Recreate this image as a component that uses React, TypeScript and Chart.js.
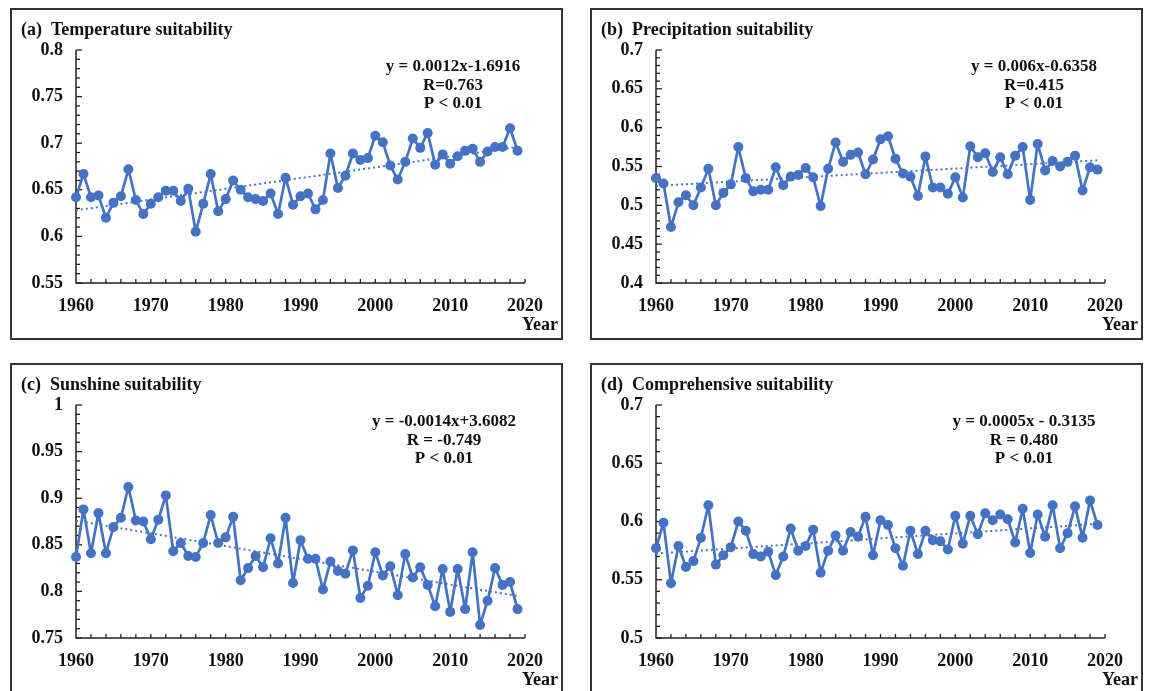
import React, { useEffect, useRef } from "react";
import { Chart, registerables } from "chart.js";

Chart.register(...registerables);

const FONT = '"Liberation Serif", "Times New Roman", serif';
const BLUE = "#4472C4";
const TREND = "#4f76b6";
const INK = "#111111";

const years = [
  1960, 1961, 1962, 1963, 1964, 1965, 1966, 1967, 1968, 1969,
  1970, 1971, 1972, 1973, 1974, 1975, 1976, 1977, 1978, 1979,
  1980, 1981, 1982, 1983, 1984, 1985, 1986, 1987, 1988, 1989,
  1990, 1991, 1992, 1993, 1994, 1995, 1996, 1997, 1998, 1999,
  2000, 2001, 2002, 2003, 2004, 2005, 2006, 2007, 2008, 2009,
  2010, 2011, 2012, 2013, 2014, 2015, 2016, 2017, 2018, 2019,
];

const xTicks = [1960, 1970, 1980, 1990, 2000, 2010, 2020];
const trendYears = [1960, 2019];

const temperature = [
  0.642, 0.667, 0.642, 0.644, 0.620, 0.636, 0.643, 0.672, 0.639, 0.624,
  0.635, 0.642, 0.649, 0.649, 0.638, 0.651, 0.605, 0.635, 0.667, 0.627,
  0.640, 0.660, 0.650, 0.642, 0.640, 0.638, 0.646, 0.624, 0.663, 0.634,
  0.643, 0.646, 0.629, 0.639, 0.689, 0.652, 0.665, 0.689, 0.682, 0.684,
  0.708, 0.701, 0.676, 0.661, 0.680, 0.705, 0.695, 0.711, 0.677, 0.688,
  0.678, 0.686, 0.692, 0.694, 0.680, 0.691, 0.696, 0.696, 0.716, 0.692,
];
const temperatureTrend = [0.628, 0.696];
const temperatureTicks = [0.55, 0.6, 0.65, 0.7, 0.75, 0.8];

const precipitation = [
  0.535, 0.528, 0.472, 0.504, 0.513, 0.500, 0.523, 0.547, 0.500, 0.516,
  0.527, 0.575, 0.535, 0.518, 0.520, 0.520, 0.549, 0.526, 0.537, 0.539,
  0.548, 0.536, 0.499, 0.547, 0.581, 0.556, 0.565, 0.568, 0.540, 0.559,
  0.585, 0.589, 0.560, 0.541, 0.537, 0.512, 0.563, 0.523, 0.523, 0.515,
  0.536, 0.510, 0.576, 0.562, 0.567, 0.543, 0.562, 0.540, 0.564, 0.575,
  0.507, 0.579, 0.545, 0.557, 0.550, 0.556, 0.564, 0.519, 0.549, 0.546,
];
const precipitationTrend = [0.525, 0.558];
const precipitationTicks = [0.4, 0.45, 0.5, 0.55, 0.6, 0.65, 0.7];

const sunshine = [
  0.837, 0.888, 0.841, 0.884, 0.841, 0.869, 0.879, 0.912, 0.876, 0.875,
  0.856, 0.877, 0.903, 0.843, 0.852, 0.838, 0.837, 0.852, 0.882, 0.852,
  0.858, 0.880, 0.812, 0.825, 0.838, 0.826, 0.857, 0.830, 0.879, 0.809,
  0.855, 0.835, 0.835, 0.802, 0.832, 0.822, 0.819, 0.844, 0.793, 0.806,
  0.842, 0.817, 0.827, 0.796, 0.840, 0.815, 0.826, 0.807, 0.784, 0.824,
  0.778, 0.824, 0.781, 0.842, 0.764, 0.790, 0.825, 0.807, 0.810, 0.781,
];
const sunshineTrend = [0.876, 0.795];
const sunshineTicks = [0.75, 0.8, 0.85, 0.9, 0.95, 1];

const comprehensive = [
  0.577, 0.599, 0.547, 0.579, 0.561, 0.566, 0.586, 0.614, 0.563, 0.571,
  0.578, 0.600, 0.592, 0.572, 0.570, 0.574, 0.554, 0.570, 0.594, 0.575,
  0.579, 0.593, 0.556, 0.575, 0.588, 0.575, 0.591, 0.587, 0.604, 0.571,
  0.601, 0.597, 0.577, 0.562, 0.592, 0.572, 0.592, 0.584, 0.583, 0.576,
  0.605, 0.581, 0.605, 0.589, 0.607, 0.601, 0.606, 0.602, 0.582, 0.611,
  0.573, 0.606, 0.587, 0.614, 0.577, 0.590, 0.613, 0.586, 0.618, 0.597,
];
const comprehensiveTrend = [0.5725, 0.598];
const comprehensiveTicks = [0.5, 0.55, 0.6, 0.65, 0.7];

type Spec = {
  title: string;
  values: number[];
  trend: number[];
  yTicks: number[];
  equation: string[];
  eqX: number;
  left: number;
  top: number;
};

const panels: Spec[] = [
  {
    title: "(a)  Temperature suitability",
    values: temperature,
    trend: temperatureTrend,
    yTicks: temperatureTicks,
    equation: ["y = 0.0012x-1.6916", "R=0.763", "P < 0.01"],
    eqX: 441,
    left: 10,
    top: 8,
  },
  {
    title: "(b)  Precipitation suitability",
    values: precipitation,
    trend: precipitationTrend,
    yTicks: precipitationTicks,
    equation: ["y = 0.006x-0.6358", "R=0.415", "P < 0.01"],
    eqX: 442,
    left: 590,
    top: 8,
  },
  {
    title: "(c)  Sunshine suitability",
    values: sunshine,
    trend: sunshineTrend,
    yTicks: sunshineTicks,
    equation: ["y = -0.0014x+3.6082", "R = -0.749", "P < 0.01"],
    eqX: 432,
    left: 10,
    top: 363,
  },
  {
    title: "(d)  Comprehensive suitability",
    values: comprehensive,
    trend: comprehensiveTrend,
    yTicks: comprehensiveTicks,
    equation: ["y = 0.0005x - 0.3135", "R = 0.480", "P < 0.01"],
    eqX: 432,
    left: 590,
    top: 363,
  },
];

const CANVAS_W = 549;
const CANVAS_H = 328;

function Panel({ spec }: { spec: Spec }) {
  const ref = useRef<HTMLCanvasElement | null>(null);

  useEffect(() => {
    if (!ref.current) return;
    const yMin = spec.yTicks[0];
    const yMax = spec.yTicks[spec.yTicks.length - 1];

    const decor = {
      id: "decor",
      beforeDatasetsDraw(chart: any) {
        const { ctx, chartArea: ca, scales } = chart;
        const x = scales.x;
        const y = scales.y;
        ctx.save();
        ctx.strokeStyle = "#222";
        ctx.lineWidth = 1.5;
        ctx.beginPath();
        ctx.moveTo(ca.left, ca.top);
        ctx.lineTo(ca.left, ca.bottom);
        ctx.lineTo(ca.right, ca.bottom);
        ctx.stroke();
        ctx.lineWidth = 1.3;
        for (let yr = 1962; yr <= 2020; yr += 2) {
          const px = x.getPixelForValue(yr);
          ctx.beginPath();
          ctx.moveTo(px, ca.bottom);
          ctx.lineTo(px, ca.bottom - 4);
          ctx.stroke();
        }
        const n = Math.round((yMax - yMin) / 0.01);
        for (let i = 0; i <= n; i++) {
          const py = y.getPixelForValue(yMin + (i * (yMax - yMin)) / n);
          const len = i % 5 === 0 ? 6 : 4;
          ctx.beginPath();
          ctx.moveTo(ca.left, py);
          ctx.lineTo(ca.left + len, py);
          ctx.stroke();
        }
        ctx.restore();
      },
      afterDraw(chart: any) {
        const { ctx } = chart;
        ctx.save();
        ctx.fillStyle = INK;
        ctx.textBaseline = "middle";
        ctx.font = `bold 18px ${FONT}`;
        ctx.textAlign = "left";
        ctx.fillText(spec.title, 9, 20);
        ctx.font = `bold 17px ${FONT}`;
        ctx.textAlign = "center";
        const lineY = [57, 75.5, 94];
        spec.equation.forEach((t, i) => ctx.fillText(t, spec.eqX, lineY[i]));
        ctx.font = `bold 18px ${FONT}`;
        ctx.textAlign = "right";
        ctx.fillText("Year", 546, 315);
        ctx.restore();
      },
    };

    const chart = new Chart(ref.current, {
      type: "line",
      data: {
        datasets: [
          {
            data: years.map((yr, i) => ({ x: yr, y: spec.values[i] })),
            borderColor: BLUE,
            backgroundColor: BLUE,
            borderWidth: 2.7,
            borderJoinStyle: "round",
            borderCapStyle: "round",
            pointRadius: 5,
            pointBackgroundColor: BLUE,
            pointBorderColor: BLUE,
            pointBorderWidth: 0,
            tension: 0,
            clip: false as any,
          },
          {
            data: trendYears.map((yr, i) => ({ x: yr, y: spec.trend[i] })),
            borderColor: TREND,
            borderDash: [2, 3],
            borderWidth: 2,
            pointRadius: 0,
            tension: 0,
          },
        ],
      },
      options: {
        responsive: false,
        animation: false,
        events: [],
        layout: { padding: { left: 0, top: 40, right: 36, bottom: 0 } },
        plugins: {
          legend: { display: false },
          tooltip: { enabled: false },
          title: { display: false },
        },
        scales: {
          x: {
            type: "linear",
            min: 1960,
            max: 2020,
            afterBuildTicks: (s: any) => {
              s.ticks = xTicks.map((v) => ({ value: v }));
            },
            afterFit: (s: any) => {
              s.height = 55;
              s.paddingLeft = 0;
              s.paddingRight = 0;
            },
            ticks: {
              autoSkip: false,
              maxRotation: 0,
              padding: 13,
              color: INK,
              font: { family: FONT, size: 18, weight: "bold" },
              callback: (v: any) => String(v),
            },
            grid: { display: false, drawTicks: false },
            border: { display: false },
          },
          y: {
            type: "linear",
            min: yMin,
            max: yMax,
            afterBuildTicks: (s: any) => {
              s.ticks = spec.yTicks.map((v) => ({ value: v }));
            },
            afterFit: (s: any) => {
              s.width = 64;
              s.paddingTop = 0;
              s.paddingBottom = 0;
            },
            ticks: {
              padding: 13,
              color: INK,
              font: { family: FONT, size: 18, weight: "bold" },
              callback: (v: any) => String(v),
            },
            grid: { display: false, drawTicks: false },
            border: { display: false },
          },
        },
      } as any,
      plugins: [decor],
    });
    return () => chart.destroy();
  }, [spec]);

  return (
    <div
      style={{
        position: "absolute",
        left: spec.left,
        top: spec.top,
        width: 553,
        height: 332,
        boxSizing: "border-box",
        border: "2px solid #333",
        background: "#fff",
      }}
    >
      <canvas
        ref={ref}
        width={CANVAS_W}
        height={CANVAS_H}
        style={{ display: "block", width: CANVAS_W, height: CANVAS_H }}
      />
    </div>
  );
}

export default function App() {
  return (
    <div
      style={{
        position: "absolute",
        left: 0,
        top: 0,
        width: 1155,
        height: 691,
        overflow: "hidden",
        background: "#fff",
      }}
    >
      {panels.map((p) => (
        <Panel key={p.title} spec={p} />
      ))}
    </div>
  );
}
